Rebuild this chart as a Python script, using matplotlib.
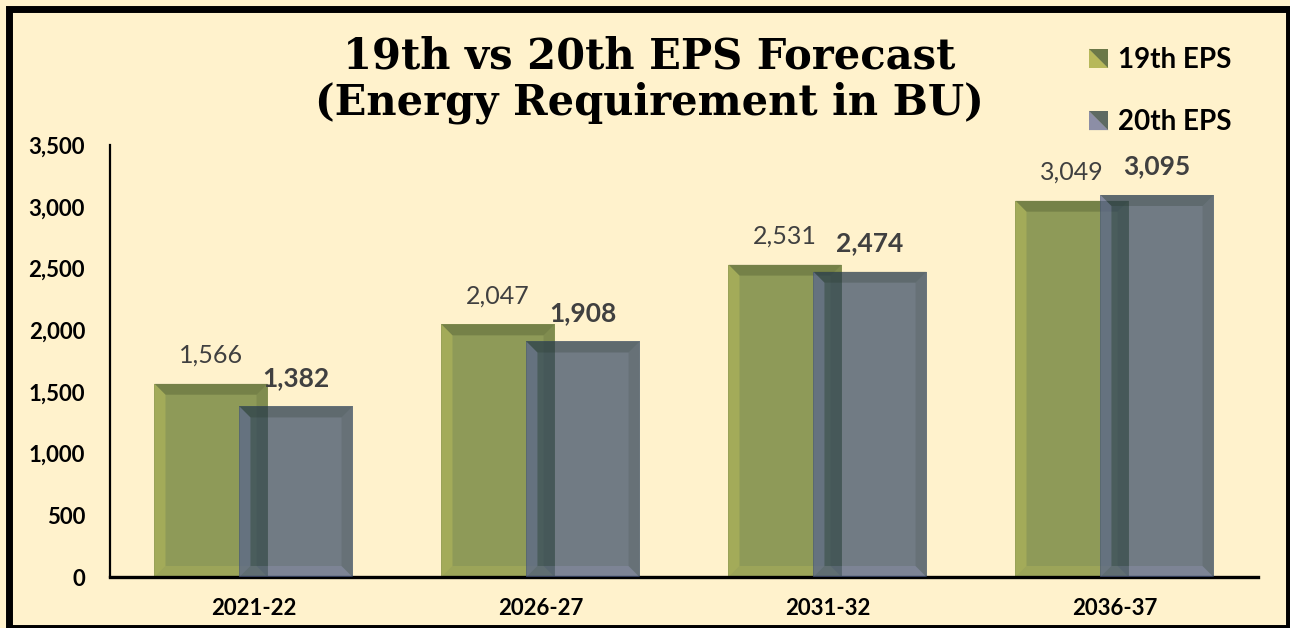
import numpy as np
import matplotlib.pyplot as plt
from matplotlib.patches import Rectangle, Polygon
from matplotlib.legend_handler import HandlerBase
from matplotlib.ticker import FuncFormatter

# data ------------------------------------------------------------------------
years = ['2021-22', '2026-27', '2031-32', '2036-37']
eps19 = [1566, 2047, 2531, 3049]
eps20 = [1382, 1908, 2474, 3095]
series_names = ['19th EPS', '20th EPS']

# style -----------------------------------------------------------------------
bg = '#FFF2CC'
green = '#8E9A58'
slate = '#283E5F'   # drawn semi transparent -> grey on cream, dark over green
slate_alpha = 0.66
font = 'Lato'

fig = plt.figure(figsize=(12.9, 6.28), dpi=100, facecolor=bg)
ax = fig.add_axes([110/1290, 1-577/628, 1148/1290, 432/628])
ax.set_facecolor(bg)

x = np.arange(len(years))
w = 0.394
off = 0.148

b1 = ax.bar(x - off, eps19, w, color=green, zorder=2)
b2 = ax.bar(x + off, eps20, w, color=slate, alpha=slate_alpha, zorder=3)

ax.set_xlim(-0.5, 3.5)
ax.set_ylim(0, 3500)


# bevel effect on every bar, edges computed from the bar geometry
def bevel(bar, z, light, dark):
    inv = ax.transData.inverted()
    x0, y0 = ax.transData.transform((bar.get_x(), 0))
    x1, y1 = ax.transData.transform((bar.get_x() + bar.get_width(), bar.get_height()))
    d = 11
    corners = {
        'top': [(x0, y1), (x1, y1), (x1 - d, y1 - d), (x0 + d, y1 - d)],
        'right': [(x1, y1), (x1, y0), (x1 - d, y0 + d), (x1 - d, y1 - d)],
        'left': [(x0, y1), (x0 + d, y1 - d), (x0 + d, y0 + d), (x0, y0)],
        'bottom': [(x0, y0), (x1, y0), (x1 - d, y0 + d), (x0 + d, y0 + d)],
    }
    shades = {'top': (dark, 0.22), 'right': (dark, 0.12),
              'left': (light, 0.22), 'bottom': (light, 0.14)}
    for k, pts in corners.items():
        c, a = shades[k]
        ax.add_patch(Polygon(inv.transform(pts), closed=True, color=c, alpha=a,
                             lw=0, zorder=z))


fig.canvas.draw()
for b in b1:
    bevel(b, 2.5, '#F2E860', '#1E2A10')
for b in b2:
    bevel(b, 3.5, '#C8C0FF', '#203020')

# data labels
for xi, v in zip(x, eps19):
    ax.annotate(f'{v:,}', (xi - off, v), xytext=(0, 12), textcoords='offset points',
                ha='center', va='bottom', fontsize=18, color='#404040',
                family=font, zorder=5)
for xi, v in zip(x, eps20):
    ax.annotate(f'{v:,}', (xi + off, v), xytext=(0, 12), textcoords='offset points',
                ha='center', va='bottom', fontsize=19, fontweight='bold',
                color='#404040', family=font, zorder=5)

# axes
for s in ['top', 'right']:
    ax.spines[s].set_visible(False)
ax.spines['left'].set_linewidth(1.6)
ax.spines['bottom'].set_linewidth(2.4)
ax.set_xticks(x)
ax.set_xticklabels(years)
ax.set_yticks(np.arange(0, 3501, 500))
ax.yaxis.set_major_formatter(FuncFormatter(lambda v, p: f'{int(v):,}'))
ax.tick_params(length=0)
ax.tick_params(axis='y', pad=18)
ax.tick_params(axis='x', pad=15)
for t in ax.get_xticklabels() + ax.get_yticklabels():
    t.set_fontfamily(font)
    t.set_fontweight('bold')
    t.set_fontsize(16)

# title
fig.text(649/1290, 1-80/628, '19th vs 20th EPS Forecast\n(Energy Requirement in BU)',
         ha='center', va='center', fontsize=30, fontweight='bold',
         family='DejaVu Serif', linespacing=1.12)


# legend with diagonally split squares
class SplitSquare(HandlerBase):
    def __init__(self, lo, hi):
        super().__init__()
        self.lo, self.hi = lo, hi

    def create_artists(self, legend, orig, xd, yd, width, height, fontsize, trans):
        s = min(width, height)
        x0, y0 = -xd + (width - s), -yd + (height - s) / 2
        p1 = Polygon([(x0, y0), (x0 + s, y0), (x0, y0 + s)], closed=True,
                     color=self.lo, transform=trans, lw=0)
        p2 = Polygon([(x0 + s, y0), (x0 + s, y0 + s), (x0, y0 + s)], closed=True,
                     color=self.hi, transform=trans, lw=0)
        return [p1, p2]


h1 = Rectangle((0, 0), 1, 1)
h2 = Rectangle((0, 0), 1, 1)
leg = fig.legend([h1, h2], series_names, loc='upper left',
                 bbox_to_anchor=(1064/1290, 1-22/628), frameon=False,
                 prop={'family': font, 'weight': 'bold', 'size': 20},
                 handlelength=0.7, handleheight=0.7, handletextpad=0.35,
                 labelspacing=1.3,
                 handler_map={h1: SplitSquare('#B7B85A', '#6B7848'),
                              h2: SplitSquare('#8C8EA6', '#5E6A62')})

# black frame round the chart
fig.patches.append(Rectangle((8.5/1290, 0.5/628), 1280/1290, 619/628, fill=False,
                             ec='black', lw=5, transform=fig.transFigure, figure=fig))

fig.savefig('out.png', dpi=100, facecolor=bg)
